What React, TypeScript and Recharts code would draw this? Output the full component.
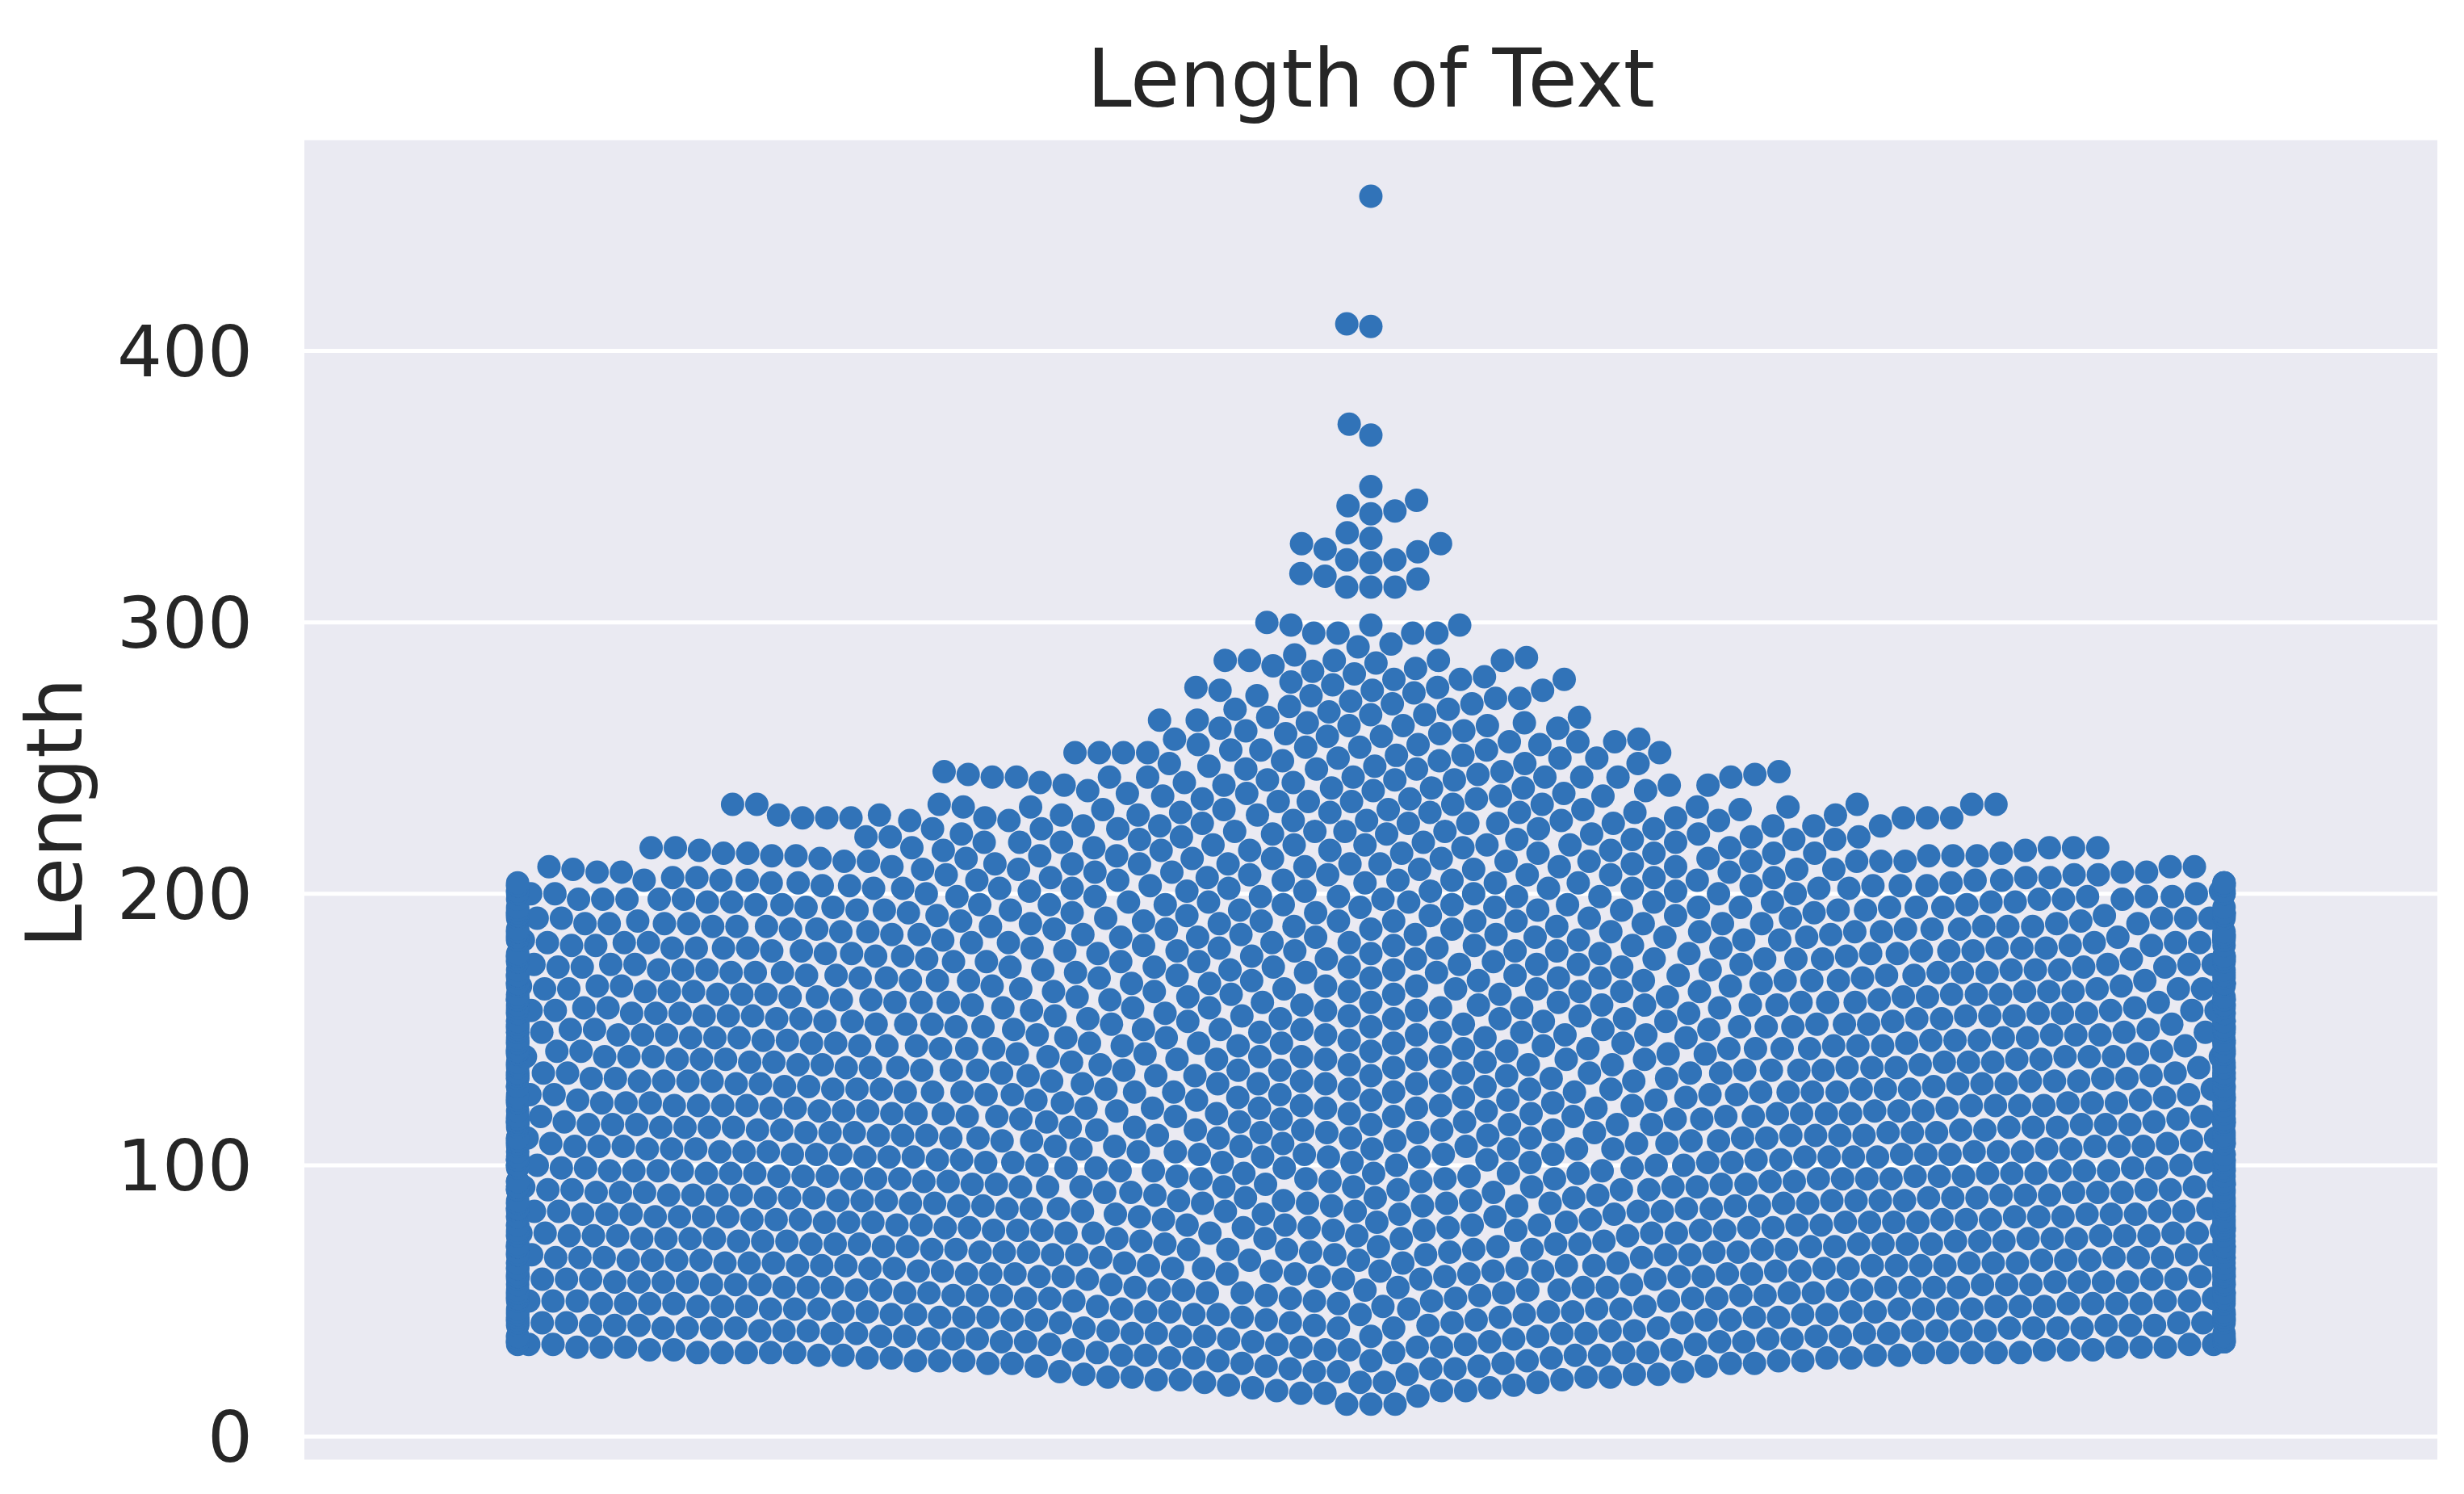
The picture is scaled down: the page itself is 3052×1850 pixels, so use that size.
import { CartesianGrid, Scatter, ScatterChart, XAxis, YAxis } from "recharts";

const TITLE = "Length of Text";
const Y_LABEL = "Length";
const Y_TICKS = [0, 100, 200, 300, 400];

// how many texts have each length, estimated from the swarm's width at that height
const FIRST_LENGTH = 12;
const COUNTS_12_35 = [
  3, 0, 0, 1, 2, 3, 2, 2, 4, 3, 4, 4, 4, 3, 4, 6, 8, 7, 8, 14, 9, 9, 9, 12,
];
const COUNTS_36_120 = [
  10, 11, 9, 10, 12, 9, 11, 10, 9, 11, 10, 12, 9, 10, 11, 10, 9, 12, 10, 11,
  11, 9, 10, 12, 10, 9, 11, 10, 12, 9, 10, 11, 9, 10, 12, 11, 9, 10, 11, 10,
  12, 9, 11, 10, 9, 12, 10, 11, 10, 9, 11, 12, 10, 9, 10, 11, 12, 9, 10, 11,
  9, 10, 12, 10, 11, 9, 10, 11, 12, 9, 10, 11, 10, 9, 12, 10, 11, 9, 10, 12,
  11, 9, 10, 11, 10,
];
const COUNTS_121_205 = [
  9, 12, 10, 11, 9, 10, 11, 12, 9, 10, 11, 10, 9, 12, 10, 11, 10, 9, 11, 12,
  9, 10, 11, 10, 12, 9, 10, 11, 9, 12, 10, 10, 11, 9, 10, 12, 9, 11, 10, 10,
  11, 9, 10, 12, 9, 10, 11, 10, 9, 11, 10, 12, 9, 10, 9, 11, 10, 9, 10, 11,
  9, 10, 9, 11, 10, 9, 10, 9, 11, 9, 10, 9, 10, 9, 11, 9, 9, 10, 9, 10, 9,
  9, 11, 10, 11,
];
const COUNTS_206_239 = [
  8, 7, 7, 7, 7, 7, 8, 6, 7, 8, 7, 9, 5, 5, 5, 5, 5, 4, 5, 5, 5, 6, 8, 6, 5,
  5, 4, 8, 3, 3, 3, 3, 3, 3,
];
const COUNTS_240_300 = [
  4, 3, 3, 9, 3, 3, 3, 2, 3, 2, 3, 2, 5, 3, 2, 3, 3, 2, 2, 2, 2, 2, 3, 2, 2,
  2, 2, 1, 2, 1, 2, 1, 2, 2, 1, 3, 2, 1, 1, 3, 1, 1, 1, 1, 1, 1, 5, 1, 1, 0,
  0, 1, 1, 0, 0, 0, 4, 0, 0, 3, 1,
];
// above the gap at 305 the dots can be read one by one
const TOP_LENGTHS = [
  313, 313, 313, 316, 317, 318, 322, 323, 323, 326, 327, 329, 329, 331, 333,
  340, 341, 343, 345, 350, 369, 373, 409, 410, 457,
];

const ALL_COUNTS = [
  ...COUNTS_12_35,
  ...COUNTS_36_120,
  ...COUNTS_121_205,
  ...COUNTS_206_239,
  ...COUNTS_240_300,
];

const lengths: number[] = [];
ALL_COUNTS.forEach((n, i) => {
  for (let k = 0; k < n; k++) lengths.push(FIRST_LENGTH + i);
});
lengths.push(...TOP_LENGTHS);

// swarm placement, same idea as seaborn: sorted by length, each dot takes the
// free spot nearest the middle. Work in pixels so the dots don't overlap on screen.
const PLOT_W = 2642;
const PX_PER_UNIT = 3.361;
const DOT_GAP = 30;
const GUTTER = 0.4;

function swarm(values: number[]) {
  const placed: { px: number; py: number }[] = [];
  const out: { x: number; y: number }[] = [];
  for (const v of values) {
    const py = v * PX_PER_UNIT;
    const near: { px: number; py: number }[] = [];
    for (let i = placed.length - 1; i >= 0; i--) {
      if (py - placed[i].py >= DOT_GAP) break;
      near.push(placed[i]);
    }
    const spots = [0];
    for (const n of near) {
      const off = Math.sqrt(DOT_GAP * DOT_GAP - (py - n.py) * (py - n.py));
      spots.push(n.px - off, n.px + off);
    }
    spots.sort((a, b) => Math.abs(a) - Math.abs(b));
    let px = 0;
    for (const s of spots) {
      const free = near.every(
        (n) => (s - n.px) ** 2 + (py - n.py) ** 2 >= DOT_GAP * DOT_GAP - 1e-6,
      );
      if (free) {
        px = s;
        break;
      }
    }
    placed.push({ px, py });
    const x = Math.max(-GUTTER, Math.min(GUTTER, px / PLOT_W));
    out.push({ x, y: v });
  }
  return out;
}

const points = swarm(lengths);

const Dot = (props: any) => (
  <circle cx={props.cx} cy={props.cy} r={14.5} fill="#3173B8" />
);

export default function App() {
  return (
    <div
      style={{
        position: "absolute",
        left: 0,
        top: 0,
        width: 3052,
        height: 1850,
        background: "#fff",
        fontFamily: "'DejaVu Sans'",
        color: "#262626",
      }}
    >
      <div
        style={{
          position: "absolute",
          left: 377,
          width: 2642,
          top: 38,
          textAlign: "center",
          fontSize: 99.5,
          lineHeight: "120px",
        }}
      >
        {TITLE}
      </div>
      <ScatterChart
        width={3052}
        height={1850}
        margin={{ top: 171, right: 33, bottom: 40, left: 277 }}
      >
        <CartesianGrid
          vertical={false}
          fill="#EAEAF2"
          stroke="#FFFFFF"
          strokeWidth={5}
        />
        <XAxis type="number" dataKey="x" domain={[-0.5, 0.5]} hide />
        <YAxis
          type="number"
          dataKey="y"
          width={100}
          domain={[-9.2, 478.4]}
          ticks={Y_TICKS}
          axisLine={false}
          tickLine={false}
          tickSize={0}
          tickMargin={64}
          tick={{ fill: "#262626", fontSize: 88, fontFamily: "'DejaVu Sans'" }}
          label={{
            value: Y_LABEL,
            angle: -90,
            position: "left",
            offset: 210,
            dy: 16,
            style: {
              fill: "#262626",
              fontSize: 97,
              fontFamily: "'DejaVu Sans'",
              textAnchor: "middle",
            },
          }}
        />
        <Scatter data={points} shape={Dot} isAnimationActive={false} />
      </ScatterChart>
    </div>
  );
}
